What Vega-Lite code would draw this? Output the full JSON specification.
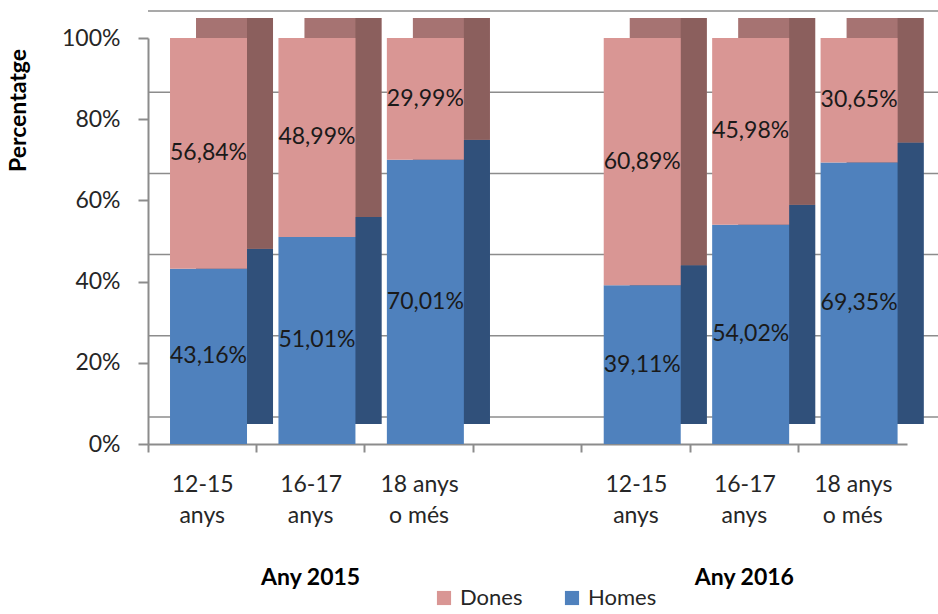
{
  "$schema": "https://vega.github.io/schema/vega-lite/v6.json",
  "width": 759,
  "height": 406,
  "autosize": {"type": "none"},
  "padding": {"left": 148, "top": 38, "right": 31, "bottom": 170},
  "background": "white",
  "config": {
    "font": "Lato",
    "view": {"stroke": null}
  },
  "data": {
    "values": [
      {"any": "Any 2015", "edat": "12-15 anys", "slot": "2015 12-15", "sexe": "Homes", "valor": 0.4316, "etiqueta": "43,16%"},
      {"any": "Any 2015", "edat": "12-15 anys", "slot": "2015 12-15", "sexe": "Dones", "valor": 0.5684, "etiqueta": "56,84%"},
      {"any": "Any 2015", "edat": "16-17 anys", "slot": "2015 16-17", "sexe": "Homes", "valor": 0.5101, "etiqueta": "51,01%"},
      {"any": "Any 2015", "edat": "16-17 anys", "slot": "2015 16-17", "sexe": "Dones", "valor": 0.4899, "etiqueta": "48,99%"},
      {"any": "Any 2015", "edat": "18 anys o més", "slot": "2015 18+", "sexe": "Homes", "valor": 0.7001, "etiqueta": "70,01%"},
      {"any": "Any 2015", "edat": "18 anys o més", "slot": "2015 18+", "sexe": "Dones", "valor": 0.2999, "etiqueta": "29,99%"},
      {"any": "Any 2016", "edat": "12-15 anys", "slot": "2016 12-15", "sexe": "Homes", "valor": 0.3911, "etiqueta": "39,11%"},
      {"any": "Any 2016", "edat": "12-15 anys", "slot": "2016 12-15", "sexe": "Dones", "valor": 0.6089, "etiqueta": "60,89%"},
      {"any": "Any 2016", "edat": "16-17 anys", "slot": "2016 16-17", "sexe": "Homes", "valor": 0.5402, "etiqueta": "54,02%"},
      {"any": "Any 2016", "edat": "16-17 anys", "slot": "2016 16-17", "sexe": "Dones", "valor": 0.4598, "etiqueta": "45,98%"},
      {"any": "Any 2016", "edat": "18 anys o més", "slot": "2016 18+", "sexe": "Homes", "valor": 0.6935, "etiqueta": "69,35%"},
      {"any": "Any 2016", "edat": "18 anys o més", "slot": "2016 18+", "sexe": "Dones", "valor": 0.3065, "etiqueta": "30,65%"}
    ]
  },
  "layer": [
    {
      "data": {"values": [{"v": 0}, {"v": 0.2}, {"v": 0.4}, {"v": 0.6}, {"v": 0.8}, {"v": 1}]},
      "mark": {"type": "rule", "color": "#8c8c8c", "strokeWidth": 1.5, "xOffset": 35, "x2Offset": 31, "yOffset": -27},
      "encoding": {"y": {"field": "v", "type": "quantitative"}}
    },
    {
      "mark": {"type": "bar", "width": 77, "xOffset": 32.3, "yOffset": -20, "y2Offset": -20},
      "encoding": {
        "x": {
          "field": "slot", "type": "nominal",
          "scale": {"domain": ["2015 12-15", "2015 16-17", "2015 18+", "buit", "2016 12-15", "2016 16-17", "2016 18+"], "paddingInner": 0, "paddingOuter": 0},
          "axis": {
            "orient": "bottom", "title": null, "labelAngle": 0, "ticks": false, "tickSize": 0, "domain": false, "grid": false,
            "labelExpr": "indexof(datum.value,'12-15')>=0 || indexof(datum.value,'16-17')>=0 ? 'anys' : indexof(datum.value,'18+')>=0 ? 'o més' : ''",
            "labelFontSize": 23, "labelColor": "#262626", "labelPadding": 60, "labelOverlap": false, "labelLimit": 200
          }
        },
        "y": {"field": "valor", "type": "quantitative", "stack": "zero"},
        "order": {"field": "sexe", "sort": "descending"},
        "fill": {"condition": {"test": "datum.sexe === 'Dones'", "value": "#a67372"}, "value": "#30507a"}
      }
    },
    {
      "mark": {"type": "bar", "width": 26, "xOffset": 57.8, "yOffset": -20, "y2Offset": -20},
      "encoding": {
        "x": {
          "field": "slot", "type": "nominal",
          "scale": {"domain": ["2015 12-15", "2015 16-17", "2015 18+", "buit", "2016 12-15", "2016 16-17", "2016 18+"], "paddingInner": 0, "paddingOuter": 0},
          "axis": {
            "orient": "bottom", "title": null, "labelAngle": 0, "ticks": false, "tickSize": 0, "domain": false, "grid": false,
            "labelExpr": "datum.value == '2015 16-17' ? 'Any 2015' : datum.value == '2016 16-17' ? 'Any 2016' : ''",
            "labelFontSize": 23, "labelFontWeight": "bold", "labelColor": "#000000", "labelPadding": 122, "labelOverlap": false, "labelLimit": 200
          }
        },
        "y": {"field": "valor", "type": "quantitative", "stack": "zero"},
        "order": {"field": "sexe", "sort": "descending"},
        "fill": {"condition": {"test": "datum.sexe === 'Dones'", "value": "#8b5f5d"}, "value": "#30507a"}
      }
    },
    {
      "mark": {"type": "bar", "width": 77, "xOffset": 6.3},
      "encoding": {
        "x": {
          "field": "slot", "type": "nominal",
          "scale": {"domain": ["2015 12-15", "2015 16-17", "2015 18+", "buit", "2016 12-15", "2016 16-17", "2016 18+"], "paddingInner": 0, "paddingOuter": 0},
          "axis": {
            "orient": "bottom", "title": null, "labels": false, "bandPosition": 0,
            "tickSize": 8, "tickWidth": 2, "tickColor": "#8c8c8c",
            "domainColor": "#8c8c8c", "domainWidth": 2, "grid": false
          }
        },
        "y": {
          "field": "valor", "type": "quantitative", "stack": "zero",
          "scale": {"domain": [0, 1]},
          "axis": {
            "title": "Percentatge",
            "titleFontSize": 23,
            "titleFontWeight": "bold",
            "titleColor": "#000000",
            "titleX": -130,
            "titleY": 72,
            "titleAlign": "center",
            "titleBaseline": "middle",
            "values": [0, 0.2, 0.4, 0.6, 0.8, 1],
            "format": ".0%",
            "labelFontSize": 23,
            "labelColor": "#262626",
            "labelPadding": 18,
            "tickSize": 10,
            "tickWidth": 2,
            "tickColor": "#8c8c8c",
            "domainColor": "#8c8c8c",
            "domainWidth": 2,
            "grid": false
          }
        },
        "order": {"field": "sexe", "sort": "descending"},
        "color": {
          "field": "sexe", "type": "nominal",
          "scale": {"domain": ["Dones", "Homes"], "range": ["#d99694", "#4f81bd"]},
          "legend": {
            "title": null,
            "orient": "none",
            "legendX": 285,
            "legendY": 549,
            "direction": "horizontal",
            "symbolType": "square",
            "symbolSize": 200,
            "symbolStrokeWidth": 0,
            "labelFontSize": 22,
            "labelColor": "#262626",
            "labelOffset": 5,
            "columnPadding": 38
          }
        }
      }
    },
    {
      "mark": {"type": "text", "fontSize": 23, "color": "#1a1a1a", "xOffset": 6.3},
      "encoding": {
        "x": {
          "field": "slot", "type": "nominal",
          "scale": {"domain": ["2015 12-15", "2015 16-17", "2015 18+", "buit", "2016 12-15", "2016 16-17", "2016 18+"], "paddingInner": 0, "paddingOuter": 0},
          "axis": {
            "orient": "bottom", "title": null, "labelAngle": 0, "ticks": false, "tickSize": 0, "domain": false, "grid": false,
            "labelExpr": "indexof(datum.value,'12-15')>=0 ? '12-15' : indexof(datum.value,'16-17')>=0 ? '16-17' : indexof(datum.value,'18+')>=0 ? '18 anys' : ''",
            "labelFontSize": 23, "labelColor": "#262626", "labelPadding": 29, "labelOverlap": false, "labelLimit": 200
          }
        },
        "y": {"field": "valor", "type": "quantitative", "stack": "zero", "bandPosition": 0.5},
        "order": {"field": "sexe", "sort": "descending"},
        "text": {"field": "etiqueta", "type": "nominal"}
      }
    }
  ],
  "resolve": {"scale": {"x": "independent"}}
}
